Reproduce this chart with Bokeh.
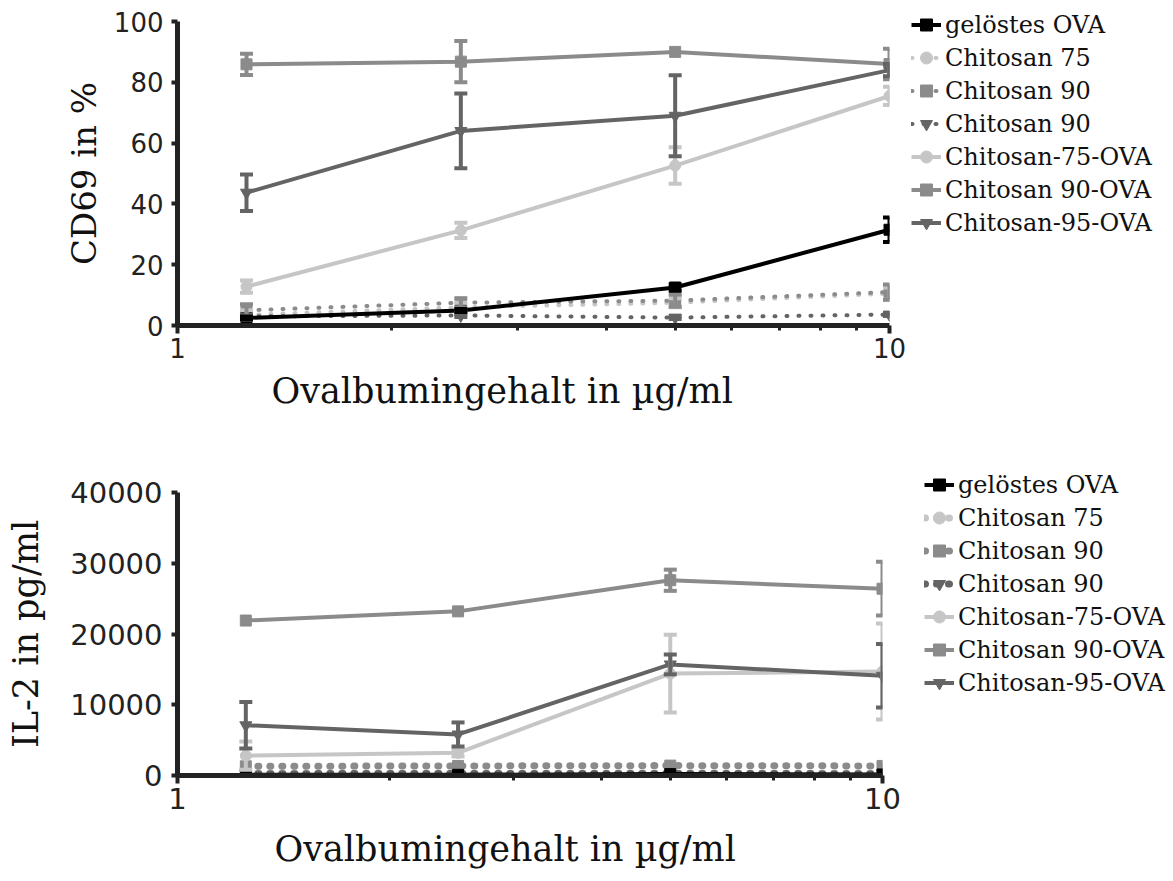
from bokeh.plotting import figure
from bokeh.models import (Range1d, FixedTicker, Legend, LegendItem, Whisker, TeeHead,
                          ColumnDataSource, Title, NumeralTickFormatter)
from bokeh.layouts import column
from bokeh.embed import file_html
from bokeh.resources import INLINE

# ---------------- data ----------------
x_conc = [1.25, 2.5, 5, 10]
series_names = ["gelöstes OVA", "Chitosan 75", "Chitosan 90", "Chitosan 90",
                "Chitosan-75-OVA", "Chitosan 90-OVA", "Chitosan-95-OVA"]

# CD69 in %
cd69_geloest = [2.5, 4.9, 12.5, 31.5]
cd69_geloest_err = [0.5, 0.5, 1.0, 4.0]
cd69_chi75 = [3.5, 6.0, 7.5, 10.5]
cd69_chi75_err = [1.5, 1.5, 1.5, 2.0]
cd69_chi90 = [5.0, 7.5, 8.2, 11.0]
cd69_chi90_err = [2.0, 1.5, 2.0, 2.5]
cd69_chi90b = [3.0, 3.3, 2.6, 3.6]
cd69_chi90b_err = [0.5, 0.5, 0.5, 0.5]
cd69_chi75ova = [12.8, 31.3, 52.6, 75.5]
cd69_chi75ova_err = [2.0, 2.5, 6.0, 3.0]
cd69_chi90ova = [85.9, 86.8, 90.0, 86.0]
cd69_chi90ova_err = [3.5, 6.8, 0.0, 5.0]
cd69_chi95ova = [43.7, 64.0, 69.0, 84.0]
cd69_chi95ova_err = [6.0, 12.3, 13.3, 2.0]

# IL-2 in pg/ml
il2_geloest = [100, 100, 200, 150]
il2_geloest_err = [0, 0, 0, 0]
il2_chi75 = [350, 300, 350, 300]
il2_chi75_err = [0, 0, 0, 0]
il2_chi90 = [1300, 1350, 1400, 1350]
il2_chi90_err = [0, 0, 0, 0]
il2_chi90b = [250, 300, 300, 250]
il2_chi90b_err = [0, 0, 0, 0]
il2_chi75ova = [2800, 3200, 14400, 14700]
il2_chi75ova_err = [2000, 500, 5500, 6800]
il2_chi90ova = [21900, 23200, 27600, 26400]
il2_chi90ova_err = [0, 0, 1500, 3800]
il2_chi95ova = [7100, 5800, 15700, 14100]
il2_chi95ova_err = [3300, 1700, 1400, 4500]

cd69_ticks = [0, 20, 40, 60, 80, 100]
il2_ticks = [0, 10000, 20000, 30000, 40000]
x_ticks = [1, 10]
x_minor = [2, 3, 4, 5, 6, 7, 8, 9]

# ---------------- style ----------------
BLACK = "#000000"
LIGHT = "#c6c6c6"
MED = "#8b8b8b"
DARK = "#646464"
AX = "#222222"
SERIF = "DejaVu Serif"
SANS = "DejaVu Sans"

styles = [
    dict(color=BLACK, marker="square", dash="solid", size=11),
    dict(color=LIGHT, marker="circle", dash="1 11", size=11),
    dict(color=MED, marker="square", dash="1 11", size=11),
    dict(color=DARK, marker="inverted_triangle", dash="1 11", size=12),
    dict(color=LIGHT, marker="circle", dash="solid", size=11),
    dict(color=MED, marker="square", dash="solid", size=11),
    dict(color=DARK, marker="inverted_triangle", dash="solid", size=12),
]


def make_panel(vals, errs, ymax, yticks, ylabel, fw, fh, bl, bt, bb, tick_font,
               ylab_font, ylab_standoff, tick_standoff, legend_loc, xlabel_offset,
               xlabel_standoff, dot_width):
    p = figure(frame_width=fw, frame_height=fh, x_axis_type="log",
               x_range=Range1d(1, 10), y_range=Range1d(0, ymax),
               toolbar_location=None, output_backend="svg",
               min_border_left=bl, min_border_right=1157 - bl - fw,
               min_border_top=bt, min_border_bottom=bb)
    p.outline_line_color = None
    p.grid.visible = False
    p.background_fill_color = "white"
    p.border_fill_color = "white"

    items = []
    order = [1, 3, 2, 0, 4, 5, 6]
    rends = {}
    for i in order:
        st = styles[i]
        src = ColumnDataSource(dict(x=x_conc, y=vals[i]))
        if st["dash"] == "solid":
            ln = p.line("x", "y", source=src, line_color=st["color"], line_width=4)
        else:
            ln = p.line("x", "y", source=src, line_color=st["color"], line_width=dot_width,
                        line_dash=st["dash"], line_cap="round")
        eidx = [k for k, e in enumerate(errs[i]) if e > 0]
        if eidx:
            esrc = ColumnDataSource(dict(x=[x_conc[k] for k in eidx],
                                         upper=[vals[i][k] + errs[i][k] for k in eidx],
                                         lower=[vals[i][k] - errs[i][k] for k in eidx]))
            w = Whisker(source=esrc, base="x", upper="upper", lower="lower",
                        line_color=st["color"], line_width=4, level="glyph",
                        upper_head=TeeHead(size=13, line_color=st["color"], line_width=4),
                        lower_head=TeeHead(size=13, line_color=st["color"], line_width=4))
            p.add_layout(w)
        sc = p.scatter("x", "y", source=src, marker=st["marker"], size=st["size"],
                       fill_color=st["color"], line_color=st["color"])
        rends[i] = [ln, sc]
    for i in range(7):
        items.append(LegendItem(label=series_names[i], renderers=rends[i]))

    leg = Legend(items=items, location=legend_loc, orientation="vertical",
                 label_text_font=SERIF, label_text_font_size="24px",
                 label_text_color="#111111",
                 glyph_width=30, glyph_height=33, label_height=33, spacing=0,
                 label_standoff=4, padding=0, margin=0,
                 border_line_alpha=0, background_fill_alpha=0)
    p.add_layout(leg, "right")

    ya = p.yaxis[0]
    ya.ticker = FixedTicker(ticks=yticks)
    ya.axis_line_width = 5
    ya.axis_line_color = AX
    ya.major_tick_line_width = 4
    ya.major_tick_line_color = AX
    ya.major_tick_out = 6
    ya.major_tick_in = 0
    ya.minor_tick_line_color = None
    ya.major_label_text_font = SANS
    ya.major_label_text_font_size = tick_font
    ya.major_label_text_color = "#222222"
    ya.major_label_standoff = tick_standoff
    ya.axis_label = ylabel
    ya.axis_label_text_font = SERIF
    ya.axis_label_text_font_size = ylab_font
    ya.axis_label_text_font_style = "normal"
    ya.axis_label_text_color = "#111111"
    ya.axis_label_standoff = ylab_standoff
    ya.formatter = NumeralTickFormatter(format="0")

    xa = p.xaxis[0]
    xa.ticker = FixedTicker(ticks=x_ticks, minor_ticks=x_minor)
    xa.formatter = NumeralTickFormatter(format="0")
    xa.axis_line_width = 5
    xa.axis_line_color = AX
    xa.major_tick_line_width = 4
    xa.major_tick_line_color = AX
    xa.major_tick_out = 8
    xa.major_tick_in = 0
    xa.minor_tick_line_width = 3
    xa.minor_tick_line_color = AX
    xa.minor_tick_out = 5
    xa.minor_tick_in = 0
    xa.major_label_text_font = SANS
    xa.major_label_text_font_size = tick_font
    xa.major_label_text_color = "#222222"
    xa.major_label_standoff = 4

    t = Title(text="Ovalbumingehalt in µg/ml", align="left", offset=xlabel_offset,
              text_font=SERIF, text_font_size="35px", text_font_style="normal",
              text_color="#111111", standoff=xlabel_standoff)
    p.add_layout(t, "below")
    return p


top = make_panel(
    [cd69_geloest, cd69_chi75, cd69_chi90, cd69_chi90b, cd69_chi75ova, cd69_chi90ova, cd69_chi95ova],
    [cd69_geloest_err, cd69_chi75_err, cd69_chi90_err, cd69_chi90b_err, cd69_chi75ova_err,
     cd69_chi90ova_err, cd69_chi95ova_err],
    100, cd69_ticks, "CD69 in %", 712, 304, 165, 21, 115, "26px", "34px", 7, 8,
    (22, 86), 94, 16, 4)

bottom = make_panel(
    [il2_geloest, il2_chi75, il2_chi90, il2_chi90b, il2_chi75ova, il2_chi90ova, il2_chi95ova],
    [il2_geloest_err, il2_chi75_err, il2_chi90_err, il2_chi90b_err, il2_chi75ova_err,
     il2_chi90ova_err, il2_chi95ova_err],
    40000, il2_ticks, "IL-2 in pg/ml", 705, 283, 177, 52, 90, "29px", "35px", 21, 9,
    (42, 76), 97, 30, 7)

layout = column(top, bottom)
open("out.html", "w").write(file_html(layout, INLINE))
